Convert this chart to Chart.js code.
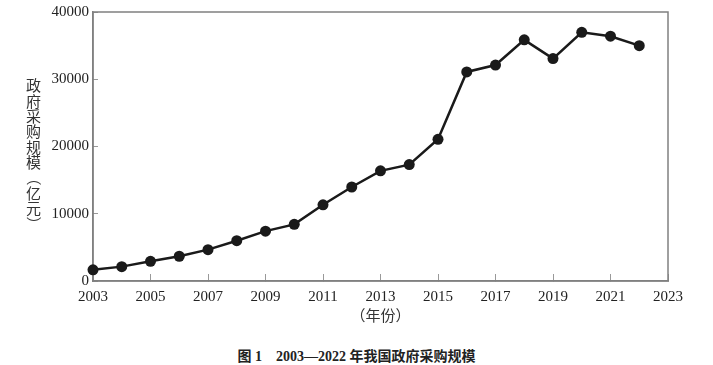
<!DOCTYPE html>
<html lang="zh">
<head>
<meta charset="UTF-8">
<title>2003—2022 年我国政府采购规模</title>
<script src="https://cdn.jsdelivr.net/npm/chart.js@4"></script>
<style>
  * { box-sizing: border-box; margin: 0; padding: 0; }
  body { background: #fff; width: 713px; height: 365px; position: relative; overflow: hidden; }
  #wrap { position: absolute; left: 0; top: 0; width: 713px; height: 340px; }
  .caption {
    position: absolute; left: 0; width: 713px; top: 345px; text-align: center;
    font-family: "Liberation Serif", "Noto Sans CJK SC", serif; font-weight: bold; font-size: 14px; color: #222;
  }
</style>
</head>
<body>
<div id="wrap"><canvas id="chart"></canvas></div>
<div class="caption">图 1　2003—2022 年我国政府采购规模</div>
<script>
// ---------- Data ----------
const YEARS = [2003, 2004, 2005, 2006, 2007, 2008, 2009, 2010, 2011, 2012,
               2013, 2014, 2015, 2016, 2017, 2018, 2019, 2020, 2021, 2022];
// 政府采购规模（亿元）
const SCALE = [1659, 2136, 2928, 3682, 4661, 5991, 7413, 8422, 11333, 13978,
               16381, 17305, 21071, 31090, 32114, 35861, 33067, 36971, 36399, 34993];
const X_RANGE = [2003, 2023];
const Y_RANGE = [0, 40000];
const X_TITLE = '（年份）';
const Y_TITLE = '政府采购规模（亿元）';

const INK = '#1a1a1a';
const FRAME = '#808080';
const tickFont = { family: '"Liberation Serif", serif', size: 15 };

// box round the plot
const framePlugin = {
  id: 'frame',
  beforeDatasetsDraw(chart) {
    const { ctx, chartArea: a } = chart;
    ctx.save();
    ctx.strokeStyle = FRAME;
    ctx.lineWidth = 1.5;
    ctx.strokeRect(a.left, a.top, a.right - a.left, a.bottom - a.top);
    ctx.restore();
  }
};

// y title written top-to-bottom, characters upright, brackets turned
const yTitlePlugin = {
  id: 'ytitle',
  afterDraw(chart) {
    const { ctx } = chart;
    const x = 33.5, y0 = 85.5, step = 15.4;
    ctx.save();
    ctx.font = '15px "Noto Sans CJK SC", sans-serif';
    ctx.fillStyle = '#333';
    ctx.textAlign = 'center';
    ctx.textBaseline = 'middle';
    [...Y_TITLE].forEach((ch, i) => {
      const y = y0 + i * step;
      if (ch === '（' || ch === '）') {
        ctx.save();
        ctx.translate(x, y);
        ctx.rotate(Math.PI / 2);
        ctx.fillText(ch, 0, 0);
        ctx.restore();
      } else {
        ctx.fillText(ch, x, y);
      }
    });
    ctx.restore();
  }
};

new Chart(document.getElementById('chart'), {
  type: 'line',
  data: {
    datasets: [{
      data: YEARS.map((y, i) => ({ x: y, y: SCALE[i] })),
      borderColor: INK,
      borderWidth: 2.5,
      backgroundColor: INK,
      pointRadius: 5.5,
      pointBorderWidth: 0,
      pointBackgroundColor: INK,
      tension: 0,
      clip: false,
    }]
  },
  options: {
    responsive: true,
    maintainAspectRatio: false,
    animation: false,
    layout: { padding: { left: 0, right: 45, top: 12, bottom: 0 } },
    plugins: { legend: { display: false }, tooltip: { enabled: false } },
    scales: {
      x: {
        type: 'linear',
        min: X_RANGE[0], max: X_RANGE[1],
        afterFit(s) { s.height = 59; s.paddingLeft = 0; s.paddingRight = 0; },
        border: { color: FRAME, width: 1.5 },
        grid: { drawOnChartArea: false, drawTicks: true, tickLength: -7, color: '#999' },
        ticks: { stepSize: 2, padding: 14, color: '#222', font: tickFont, maxRotation: 0,
                 callback: v => String(v) },
        title: { display: true, text: X_TITLE, color: '#333',
                 font: { family: '"Noto Sans CJK SC", sans-serif', size: 15 },
                 padding: { top: 0, bottom: 16 } }
      },
      y: {
        min: Y_RANGE[0], max: Y_RANGE[1],
        afterFit(s) { s.width = 93; s.paddingTop = 0; s.paddingBottom = 0; },
        border: { color: FRAME, width: 1.5 },
        grid: { drawOnChartArea: false, drawTicks: true, tickLength: -5, color: '#999' },
        ticks: { stepSize: 10000, padding: 9, color: '#222', font: tickFont,
                 callback: v => String(v) }
      }
    }
  },
  plugins: [framePlugin, yTitlePlugin]
});
</script>
</body>
</html>
